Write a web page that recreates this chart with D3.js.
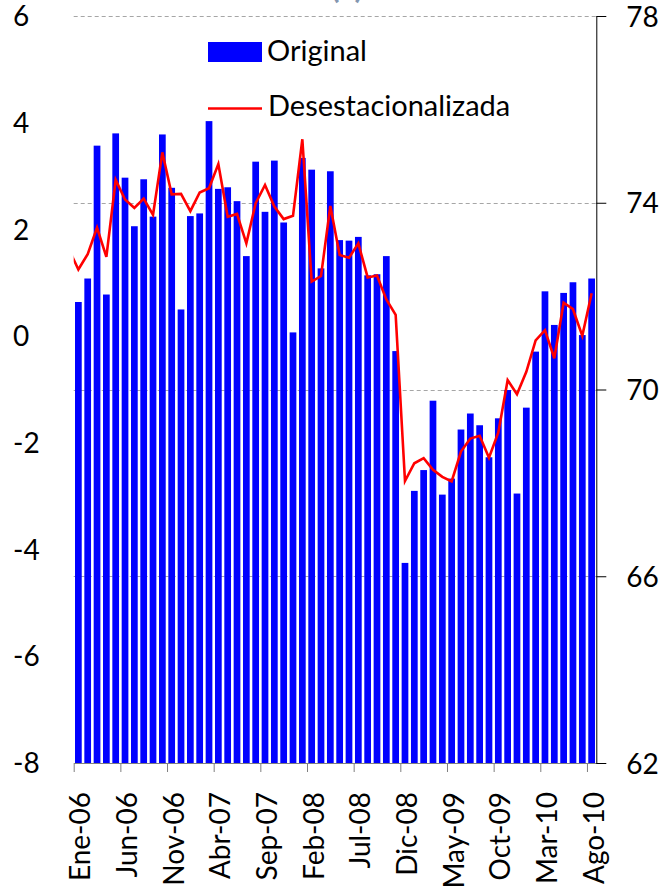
<!DOCTYPE html>
<html>
<head>
<meta charset="utf-8">
<script src="https://cdn.jsdelivr.net/npm/d3@7"></script>
<style>
  html, body { margin: 0; padding: 0; background: #fff; }
  svg { display: block; font-family: Lato, "Open Sans", sans-serif; }
</style>
</head>
<body>
<svg id="chart" width="664" height="894"></svg>
<script>
// month names and start of the series
const monthNames = ["Ene", "Feb", "Mar", "Abr", "May", "Jun", "Jul", "Ago", "Sep", "Oct", "Nov", "Dic"];
const startYear = 2006;
const nMonths = 56; // Ene-06 .. Ago-10

// Original (left axis, bars)
const original = [0.64, 1.08, 3.57, 0.78, 3.80, 2.97, 2.06, 2.94, 2.24, 3.78,
  2.78, 0.50, 2.25, 2.30, 4.03, 2.76, 2.79, 2.53, 1.50, 3.27,
  2.33, 3.29, 2.13, 0.07, 3.34, 3.12, 1.27, 3.09, 1.80, 1.79,
  1.86, 1.14, 1.16, 1.50, -0.28, -4.25, -2.90, -2.51, -1.21, -2.97,
  -2.67, -1.75, -1.45, -1.67, -2.27, -1.54, -1.01, -2.95, -1.34, -0.29,
  0.84, 0.21, 0.81, 1.01, 0.02, 1.08];

// Desestacionalizada (right axis, line); the first value is Dic-05, clipped at the plot edge
const prevValue = 73.0;
const seasonal = [72.57, 72.90, 73.47, 72.84, 74.49, 74.07, 73.89, 74.09, 73.74, 75.08,
  74.18, 74.19, 73.82, 74.22, 74.31, 74.83, 73.70, 73.76, 73.13, 73.99,
  74.38, 73.92, 73.65, 73.72, 75.36, 72.31, 72.43, 73.93, 72.88, 72.82,
  73.13, 72.40, 72.44, 71.93, 71.60, 68.04, 68.42, 68.53, 68.28, 68.13,
  68.03, 68.67, 68.95, 69.01, 68.54, 69.08, 70.20, 69.90, 70.38, 71.05,
  71.27, 70.67, 71.86, 71.72, 71.15, 72.06];

const leftTicks = [6, 4, 2, 0, -2, -4, -6, -8];
const rightTicks = [78, 74, 70, 66, 62];
const labelEvery = 5;

const months = d3.range(nMonths).map(i =>
  monthNames[i % 12] + "-" + String((startYear + Math.floor(i / 12)) % 100).padStart(2, "0"));

// layout
const plotLeft = 73.7, plotRight = 596.3, plotTop = 16, plotBottom = 763;
const svg = d3.select("#chart");

const x = d3.scaleBand().domain(months).range([plotLeft, plotRight]).paddingInner(0.28).paddingOuter(0.14);
const xEdge = d3.scaleLinear().domain([0, nMonths]).range([plotLeft, plotRight]);
const yL = d3.scaleLinear().domain([-8, 6]).range([plotBottom, plotTop]);
const yR = d3.scaleLinear().domain([62, 78]).range([plotBottom, plotTop]);

svg.append("clipPath").attr("id", "plot")
  .append("rect").attr("x", plotLeft).attr("y", plotTop - 2)
  .attr("width", plotRight - plotLeft).attr("height", plotBottom - plotTop + 4);

// title, mostly cut off above the picture (as in the source)
svg.append("text").attr("x", 347).attr("y", -2).attr("text-anchor", "middle")
  .attr("font-size", 32).attr("font-weight", "bold").attr("fill", "#8496b0").text("(a)");

// gridlines on the right axis values
svg.append("g").selectAll("line").data(rightTicks.filter(d => d > 62)).join("line")
  .attr("x1", plotLeft).attr("x2", plotRight)
  .attr("y1", d => Math.round(yR(d)) + 0.5).attr("y2", d => Math.round(yR(d)) + 0.5)
  .attr("stroke", "#a6a6a6").attr("stroke-width", 1).attr("stroke-dasharray", "4,3");

// bars from the bottom of the axis
svg.append("g").selectAll("rect").data(original).join("rect")
  .attr("x", (d, i) => x(months[i]))
  .attr("width", x.bandwidth())
  .attr("y", d => yL(d))
  .attr("height", d => yL(-8) - yL(d))
  .attr("fill", "#0000ff");

// seasonally adjusted line
const linePts = [[-1, prevValue]].concat(seasonal.map((v, i) => [i, v]));
const line = d3.line().x(d => xEdge(d[0] + 0.5)).y(d => yR(d[1]));
svg.append("path").datum(linePts)
  .attr("clip-path", "url(#plot)")
  .attr("d", line)
  .attr("fill", "none").attr("stroke", "#ff0000").attr("stroke-width", 2.6)
  .attr("stroke-linejoin", "miter");

// bottom axis: ticks at category boundaries
const xAxis = svg.append("g").attr("transform", `translate(0,${plotBottom})`)
  .call(d3.axisBottom(xEdge).tickValues(d3.range(0, nMonths, labelEvery)).tickFormat("").tickSize(9).tickSizeOuter(0));
xAxis.select(".domain").attr("stroke", "#7f7f7f");
xAxis.selectAll(".tick line").attr("stroke", "#7f7f7f");

// rotated month labels
svg.append("g").selectAll("text")
  .data(months.filter((m, i) => i % labelEvery === 0)).join("text")
  .attr("transform", d => `translate(${x(d) + x.bandwidth() / 2},792) rotate(-90)`)
  .attr("y", 12)
  .attr("text-anchor", "end")
  .attr("font-size", 28).attr("fill", "#000")
  .text(d => d);

// left labels (no axis line)
svg.append("g").selectAll("text").data(leftTicks).join("text")
  .attr("x", 13).attr("y", d => yL(d)).attr("dy", "0.36em")
  .attr("font-size", 28).attr("fill", "#000")
  .text(d => d);

// right axis
const rAxis = svg.append("g").attr("transform", `translate(${plotRight},0)`)
  .call(d3.axisRight(yR).tickValues(rightTicks).tickSize(10).tickPadding(20).tickSizeOuter(0));
rAxis.select(".domain").attr("stroke", "#000");
rAxis.selectAll(".tick line").attr("stroke", "#000");
rAxis.selectAll(".tick text").attr("font-size", 28).attr("font-family", "Lato, 'Open Sans', sans-serif")
  .attr("fill", "#000").attr("dy", "0.36em");

// legend
const legend = svg.append("g");
legend.append("rect").attr("x", 208).attr("y", 42).attr("width", 54).attr("height", 20).attr("fill", "#0000ff");
legend.append("text").attr("x", 267).attr("y", 61).attr("font-size", 29).text("Original");
legend.append("line").attr("x1", 208).attr("x2", 262).attr("y1", 108.5).attr("y2", 108.5)
  .attr("stroke", "#ff0000").attr("stroke-width", 2.5);
legend.append("text").attr("x", 268).attr("y", 116).attr("font-size", 29).text("Desestacionalizada");
</script>
</body>
</html>
